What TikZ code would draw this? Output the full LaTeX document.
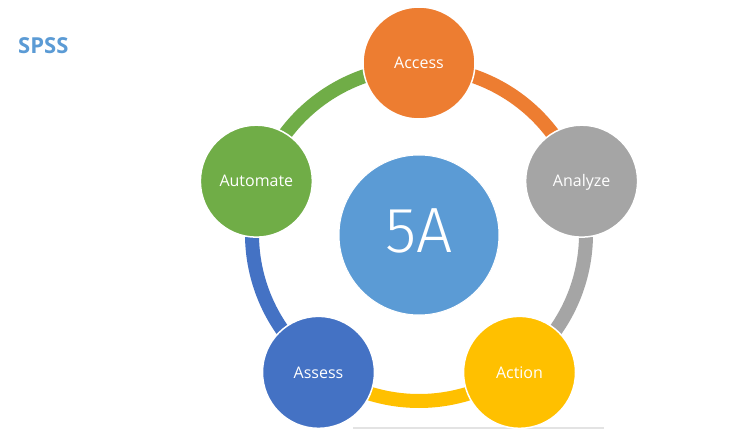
\documentclass[tikz,border=0pt]{standalone}
\usepackage{fontspec}
\usetikzlibrary{calc}
\setmainfont{Open Sans}
\newfontfamily\thinfont{Fira Sans Light}
\definecolor{cAccess}{HTML}{ED7D31}
\definecolor{cAnalyze}{HTML}{A5A5A5}
\definecolor{cAction}{HTML}{FFC000}
\definecolor{cAssess}{HTML}{4472C4}
\definecolor{cAutomate}{HTML}{70AD47}
\definecolor{cCenter}{HTML}{5B9BD5}
\definecolor{cRule}{HTML}{E3E3E3}
\tikzset{
  stagecircle/.style={circle, draw=white, line width=1.5pt, minimum size=112pt, inner sep=0pt,
    text=white, font=\fontsize{16pt}{18pt}\selectfont, text height=11.5pt, text depth=0pt},
  ringarc/.style={line width=14pt},
  hubcircle/.style={circle, fill=cCenter, draw=white, line width=1pt, minimum size=160pt, inner sep=0pt,
    text=white, font=\thinfont\fontsize{64pt}{70pt}\selectfont, text height=44pt, text depth=10pt},
  titletext/.style={text=cCenter, font=\bfseries\fontsize{22pt}{26pt}\selectfont, inner sep=0pt, anchor=base west}
}
\begin{document}
\begin{tikzpicture}[x=1pt,y=1pt]
\useasboundingbox (0,0) rectangle (739,-441);
\fill[white] (0,0) rectangle (739,-441);
\coordinate (C) at (419,-234);
% ring segments
\draw[ringarc, cAutomate] (C) ++(162:167) arc[start angle=162, end angle=90, radius=167];
\draw[ringarc, cAccess]   (C) ++(90:167)  arc[start angle=90,  end angle=18, radius=167];
\draw[ringarc, cAnalyze]  (C) ++(18:167)  arc[start angle=18,  end angle=-54, radius=167];
\draw[ringarc, cAction]   (C) ++(-54:167) arc[start angle=-54, end angle=-126, radius=167];
\draw[ringarc, cAssess]   (C) ++(-126:167) arc[start angle=-126, end angle=-198, radius=167];
% base rule
\draw[cRule, line width=2pt] (353,-427.5) -- (604,-427.5);
% hub
\node[hubcircle] (hub) at (419,-235) {5A};
% stages
\node[stagecircle, fill=cAccess]   (access)   at ($(C)+(90:171)$)   {Access};
\node[stagecircle, fill=cAnalyze]  (analyze)  at ($(C)+(18:171)$)   {Analyze};
\node[stagecircle, fill=cAction]   (action)   at ($(C)+(-54:171)$)  {Action};
\node[stagecircle, fill=cAssess]   (assess)   at ($(C)+(-126:171)$) {Assess};
\node[stagecircle, fill=cAutomate] (automate) at ($(C)+(162:171)$)  {Automate};
% title
\node[titletext] (title) at (18,-54) {SPSS};
\end{tikzpicture}
\end{document}
